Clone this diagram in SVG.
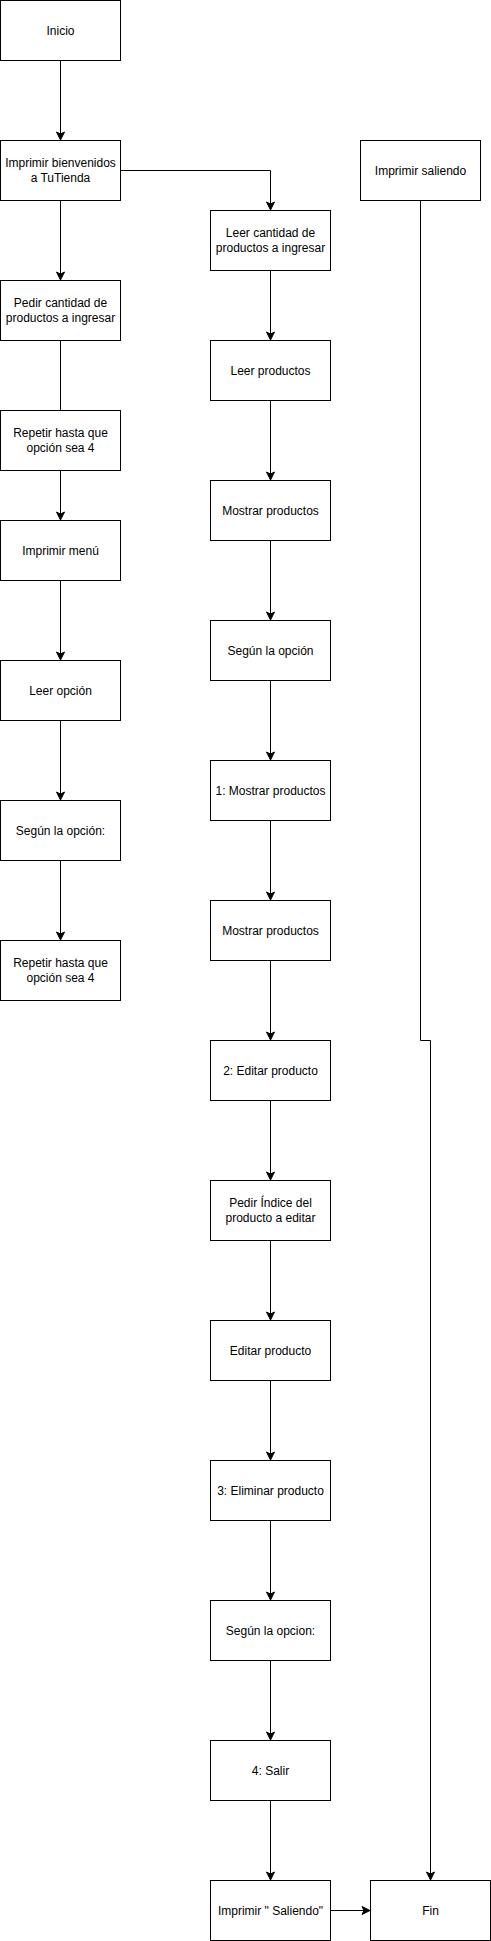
<svg xmlns="http://www.w3.org/2000/svg" width="491" height="1941" viewBox="0 0 491 1941">
<style>
.box{fill:#fff;stroke:#000;stroke-width:1}
.lbl{font-family:"Liberation Sans",Arial,Helvetica,sans-serif;font-size:12px;fill:#000;text-anchor:middle}
.edge{fill:none;stroke:#000;stroke-width:1}
</style>
<defs>
<marker id="arr" markerUnits="userSpaceOnUse" markerWidth="10" markerHeight="10" viewBox="0 0 10 10" refX="9" refY="5" orient="auto">
<path d="M1,1 L9,5 L1,9 L3,5 Z" fill="#000" stroke="#000" stroke-width="1"/>
</marker>
</defs>
<rect width="491" height="1941" fill="#fff"/>
<g id="connectors">
<path class="edge" d="M60.5,60.5 V140" marker-end="url(#arr)"/>
<path class="edge" d="M60.5,200.5 V280" marker-end="url(#arr)"/>
<path class="edge" d="M120.5,170.5 H270.5 V210" marker-end="url(#arr)"/>
<path class="edge" d="M60.5,340.5 V410.5"/>
<path class="edge" d="M60.5,470.5 V520" marker-end="url(#arr)"/>
<path class="edge" d="M60.5,580.5 V660" marker-end="url(#arr)"/>
<path class="edge" d="M60.5,720.5 V800" marker-end="url(#arr)"/>
<path class="edge" d="M60.5,860.5 V940" marker-end="url(#arr)"/>
<path class="edge" d="M270.5,270.5 V340" marker-end="url(#arr)"/>
<path class="edge" d="M270.5,400.5 V480" marker-end="url(#arr)"/>
<path class="edge" d="M270.5,540.5 V620" marker-end="url(#arr)"/>
<path class="edge" d="M270.5,680.5 V760" marker-end="url(#arr)"/>
<path class="edge" d="M270.5,820.5 V900" marker-end="url(#arr)"/>
<path class="edge" d="M270.5,960.5 V1040" marker-end="url(#arr)"/>
<path class="edge" d="M270.5,1100.5 V1180" marker-end="url(#arr)"/>
<path class="edge" d="M270.5,1240.5 V1320" marker-end="url(#arr)"/>
<path class="edge" d="M270.5,1380.5 V1460" marker-end="url(#arr)"/>
<path class="edge" d="M270.5,1520.5 V1600" marker-end="url(#arr)"/>
<path class="edge" d="M270.5,1660.5 V1740" marker-end="url(#arr)"/>
<path class="edge" d="M270.5,1800.5 V1880" marker-end="url(#arr)"/>
<path class="edge" d="M330.5,1910.5 H370" marker-end="url(#arr)"/>
<path class="edge" d="M420.5,200.5 V1040.5 H430.5 V1880" marker-end="url(#arr)"/>
</g>
<g id="inicio"><rect class="box" x="0.5" y="0.5" width="120" height="60"/><text class="lbl" x="60.5" y="34.5">Inicio</text></g>
<g id="bienvenidos"><rect class="box" x="0.5" y="140.5" width="120" height="60"/><text class="lbl" x="60.5" y="167">Imprimir bienvenidos</text><text class="lbl" x="60.5" y="182">a TuTienda</text></g>
<g id="pedir-cantidad"><rect class="box" x="0.5" y="280.5" width="120" height="60"/><text class="lbl" x="60.5" y="307">Pedir cantidad de</text><text class="lbl" x="60.5" y="322">productos a ingresar</text></g>
<g id="repetir1"><rect class="box" x="0.5" y="410.5" width="120" height="60"/><text class="lbl" x="60.5" y="437">Repetir hasta que</text><text class="lbl" x="60.5" y="452">opción sea 4</text></g>
<g id="imprimir-menu"><rect class="box" x="0.5" y="520.5" width="120" height="60"/><text class="lbl" x="60.5" y="554.5">Imprimir menú</text></g>
<g id="leer-opcion"><rect class="box" x="0.5" y="660.5" width="120" height="60"/><text class="lbl" x="60.5" y="694.5">Leer opción</text></g>
<g id="segun1"><rect class="box" x="0.5" y="800.5" width="120" height="60"/><text class="lbl" x="60.5" y="834.5">Según la opción:</text></g>
<g id="repetir2"><rect class="box" x="0.5" y="940.5" width="120" height="60"/><text class="lbl" x="60.5" y="967">Repetir hasta que</text><text class="lbl" x="60.5" y="982">opción sea 4</text></g>
<g id="leer-cantidad"><rect class="box" x="210.5" y="210.5" width="120" height="60"/><text class="lbl" x="270.5" y="237">Leer cantidad de</text><text class="lbl" x="270.5" y="252">productos a ingresar</text></g>
<g id="leer-productos"><rect class="box" x="210.5" y="340.5" width="120" height="60"/><text class="lbl" x="270.5" y="374.5">Leer productos</text></g>
<g id="mostrar1"><rect class="box" x="210.5" y="480.5" width="120" height="60"/><text class="lbl" x="270.5" y="514.5">Mostrar productos</text></g>
<g id="segun2"><rect class="box" x="210.5" y="620.5" width="120" height="60"/><text class="lbl" x="270.5" y="654.5">Según la opción</text></g>
<g id="op1"><rect class="box" x="210.5" y="760.5" width="120" height="60"/><text class="lbl" x="270.5" y="794.5">1: Mostrar productos</text></g>
<g id="mostrar2"><rect class="box" x="210.5" y="900.5" width="120" height="60"/><text class="lbl" x="270.5" y="934.5">Mostrar productos</text></g>
<g id="op2"><rect class="box" x="210.5" y="1040.5" width="120" height="60"/><text class="lbl" x="270.5" y="1074.5">2: Editar producto</text></g>
<g id="pedir-indice"><rect class="box" x="210.5" y="1180.5" width="120" height="60"/><text class="lbl" x="270.5" y="1207">Pedir Índice del</text><text class="lbl" x="270.5" y="1222">producto a editar</text></g>
<g id="editar"><rect class="box" x="210.5" y="1320.5" width="120" height="60"/><text class="lbl" x="270.5" y="1354.5">Editar producto</text></g>
<g id="op3"><rect class="box" x="210.5" y="1460.5" width="120" height="60"/><text class="lbl" x="270.5" y="1494.5">3: Eliminar producto</text></g>
<g id="segun3"><rect class="box" x="210.5" y="1600.5" width="120" height="60"/><text class="lbl" x="270.5" y="1634.5">Según la opcion:</text></g>
<g id="op4"><rect class="box" x="210.5" y="1740.5" width="120" height="60"/><text class="lbl" x="270.5" y="1774.5">4: Salir</text></g>
<g id="imprimir-saliendo2"><rect class="box" x="210.5" y="1880.5" width="120" height="60"/><text class="lbl" x="270.5" y="1914.5">Imprimir " Saliendo"</text></g>
<g id="imprimir-saliendo"><rect class="box" x="360.5" y="140.5" width="120" height="60"/><text class="lbl" x="420.5" y="174.5">Imprimir saliendo</text></g>
<g id="fin"><rect class="box" x="370.5" y="1880.5" width="120" height="60"/><text class="lbl" x="430.5" y="1914.5">Fin</text></g>
</svg>
